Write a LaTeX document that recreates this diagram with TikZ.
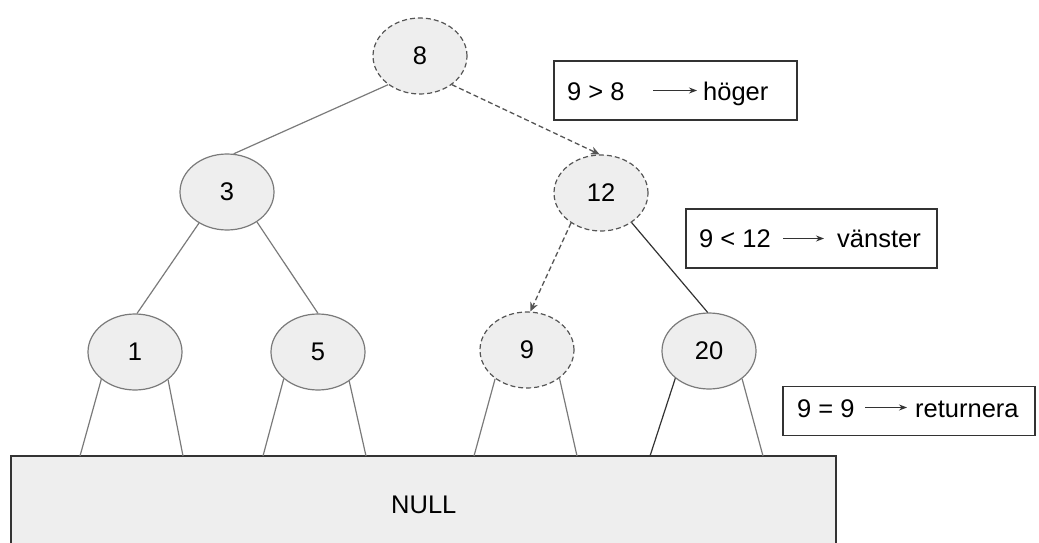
\documentclass[tikz,border=0pt]{standalone}
\usepackage{fontspec}
\setmainfont{Liberation Sans}
\usetikzlibrary{arrows.meta,shapes.geometric}
\definecolor{nodefill}{HTML}{EEEEEE}
\definecolor{edgegray}{HTML}{7A7A7A}
\definecolor{dashgray}{HTML}{555555}
\definecolor{darkline}{HTML}{333333}
\tikzset{
  every node/.style={font=\fontsize{25.5}{30}\selectfont},
  treenode/.style={ellipse, draw=edgegray, fill=nodefill, line width=1.2pt,
    minimum width=94pt, minimum height=76pt, inner sep=0pt},
  visited/.style={treenode, draw=dashgray, dash pattern=on 5pt off 3pt},
  edge/.style={draw=edgegray, line width=1.2pt},
  search/.style={draw=dashgray, line width=1.3pt, dash pattern=on 5pt off 3pt,
    -{Stealth[length=9pt,width=8pt]}},
  notebox/.style={rectangle, draw=darkline, line width=1.3pt, fill=white, inner sep=0pt},
  lbl/.style={inner sep=0pt, anchor=base west},
  tip/.style={draw=darkline, line width=1pt, -{Stealth[length=8pt,width=6pt]}},
}
\begin{document}
\begin{tikzpicture}[x=1pt, y=-1pt]
\useasboundingbox (0,0) rectangle (1039,543);

% base "NULL" block
\node[rectangle, draw=darkline, fill=nodefill, line width=1.2pt,
  minimum width=825pt, minimum height=92pt, inner sep=0pt] (null) at (423.5,502) {};
\node[lbl] (nulltext) at (391,513) {NULL};

% tree nodes
\node[visited]  (n8)  at (420,56)  {8};
\node[treenode] (n3)  at (227,192) {3};
\node[visited]  (n12) at (601,193) {12};
\node[treenode] (n1)  at (135,352) {1};
\node[treenode] (n5)  at (318,352) {5};
\node[visited]  (n9)  at (527,350) {9};
\node[treenode] (n20) at (709,351) {20};

% inner edges
\draw[edge] (n8.222) -- (n3.80);
\draw[search] (n8.318) -- (n12.92);
\draw[edge] (n3.228) -- (n1.87);
\draw[edge] (n3.315) -- (n5.90);
\draw[search] (n12.225) -- (n9.85);
\draw[edge, draw=darkline] (n12.316) -- (n20.92);

% leaf links down to NULL
\coordinate (e1a) at (80,456);  \coordinate (e1b) at (183,456);
\coordinate (e5a) at (263,456); \coordinate (e5b) at (366,456);
\coordinate (e9a) at (474,456); \coordinate (e9b) at (577,456);
\coordinate (e20a) at (650,456); \coordinate (e20b) at (763,456);
\draw[edge] (n1.219) -- (e1a);
\draw[edge] (n1.320) -- (e1b);
\draw[edge] (n5.218) -- (e5a);
\draw[edge] (n5.317) -- (e5b);
\draw[edge] (n9.222) -- (e9a);
\draw[edge] (n9.319) -- (e9b);
\draw[edge, draw=darkline] (n20.219) -- (e20a);
\draw[edge] (n20.320) -- (e20b);

% comparison notes
\node[notebox, minimum width=243pt, minimum height=59pt] (b1) at (675.5,90.5) {};
\node[lbl] (b1l) at (567,100) {9 > 8};
\node[lbl] (b1r) at (703,100) {höger};
\coordinate (b1a) at (653,90.5);
\coordinate (b1b) at (697,90.5);
\draw[tip] (b1a) -- (b1b);

\node[notebox, minimum width=251pt, minimum height=59pt] (b2) at (811.5,238.5) {};
\node[lbl] (b2l) at (699,247.5) {9 < 12};
\node[lbl] (b2r) at (837,247.5) {vänster};
\coordinate (b2a) at (783,238.5);
\coordinate (b2b) at (824,238.5);
\draw[tip] (b2a) -- (b2b);

\node[notebox, minimum width=252pt, minimum height=49pt] (b3) at (909,411) {};
\node[lbl] (b3l) at (797,417) {9 = 9};
\node[lbl] (b3r) at (915,417) {returnera};
\coordinate (b3a) at (865,407.5);
\coordinate (b3b) at (907,407.5);
\draw[tip] (b3a) -- (b3b);
\end{tikzpicture}
\end{document}
